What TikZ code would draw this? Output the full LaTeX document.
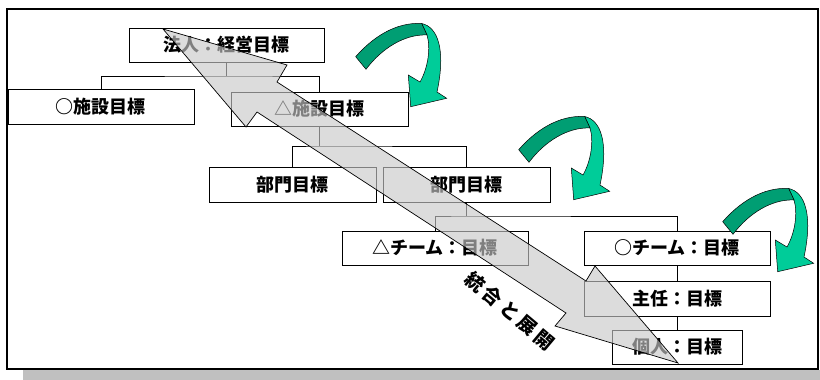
\documentclass[tikz,border=0pt]{standalone}
\usepackage{fontspec}
\newfontfamily\jp{Noto Sans CJK JP}
\definecolor{gdark}{RGB}{0,158,115}
\definecolor{glight}{RGB}{0,204,153}
\definecolor{shadowgray}{RGB}{192,192,192}
\definecolor{bigfill}{RGB}{201,201,201}
\tikzset{
  box/.style={draw=black, line width=0.8pt, fill=white, inner sep=0pt,
    font=\jp\bfseries\fontsize{18}{18}\selectfont},
  conn/.style={draw=black, line width=0.8pt},
  lbl/.style={inner sep=0pt, font=\jp\bfseries\fontsize{19}{19}\selectfont},
  turnarrow/.pic={
    \filldraw[fill=glight, draw=black, line width=0.5pt]
      (421.7,23.5) .. controls (438,27) and (446,50) .. (437,92)
      -- (446.7,98.3) -- (410.7,106.7) -- (408.3,75) -- (420,82)
      .. controls (428,68) and (431,48) .. (427,35) -- cycle;
    \filldraw[fill=gdark, draw=black, line width=0.5pt]
      (355.7,56.7) .. controls (372,38) and (395,22) .. (421.7,23.5)
      -- (427,35) .. controls (405,34) and (382,48) .. (366,69.3) -- cycle;
  }
}
\begin{document}
\begin{tikzpicture}[x=1pt,y=-1pt]
\useasboundingbox (0,0) rectangle (820,380);
% shadow and frame
\fill[shadowgray] (23,370) rectangle (820,380);
\draw[line width=2pt, fill=white] (7.3,9.3) rectangle (818.3,368.5);

% boxes
\node[box, minimum width=195pt, minimum height=34pt] (hojin) at (226.5,45) {法人：経営目標};
\node[box, minimum width=186pt, minimum height=35pt] (shisetsuO) at (101,106.5) {○施設目標};
\node[box, minimum width=177pt, minimum height=34pt] (shisetsuT) at (319.5,109) {△施設目標};
\node[box, minimum width=167pt, minimum height=35pt] (bumonL) at (292.5,184.5) {部門目標};
\node[box, minimum width=167pt, minimum height=35pt] (bumonR) at (466.5,184.5) {部門目標};
\node[box, minimum width=186pt, minimum height=34pt] (teamT) at (435,248) {△チーム：目標};
\node[box, minimum width=186pt, minimum height=34pt] (teamO) at (677,248) {○チーム：目標};
\node[box, minimum width=186pt, minimum height=35pt] (shunin) at (677,298.5) {主任：目標};
\node[box, minimum width=130pt, minimum height=34pt] (kojin) at (677,347) {個人：目標};

% connectors
\coordinate (j1) at (226.5,76);
\coordinate (j2) at (319.5,146);
\coordinate (j3) at (466.5,216);
\draw[conn] (hojin.south) -- (j1);
\draw[conn] (shisetsuO.north) |- (j1) -| (shisetsuT.north);
\draw[conn] (shisetsuT.south) -- (j2);
\draw[conn] (bumonL.north) |- (j2) -| (bumonR.north);
\draw[conn] (bumonR.south) -- (j3);
\draw[conn] (teamT.north) |- (j3) -| (teamO.north);
\draw[conn] (teamO.south) -- (shunin.north);
\draw[conn] (shunin.south) -- (kojin.north);

% green turning arrows
\pic at (0,0) {turnarrow};
\pic at (163,93) {turnarrow};
\pic at (367,165) {turnarrow};

% big double arrow
\fill[bigfill, fill opacity=0.635]
  (163,29) -- (287,65) -- (277,82) -- (586,281) -- (595,266) -- (678,363)
  -- (555,326) -- (566,313) -- (257,112) -- (246,127) -- cycle;
\draw[black, line width=0.7pt, line join=miter]
  (163,29) -- (287,65) -- (277,82) -- (586,281) -- (595,266) -- (678,363)
  -- (555,326) -- (566,313) -- (257,112) -- (246,127) -- cycle;

\node[lbl, rotate=-40] (label) at (510,311) {統\hspace{3.5pt}合\hspace{3.5pt}と\hspace{3.5pt}展\hspace{3.5pt}開};
\end{tikzpicture}
\end{document}
